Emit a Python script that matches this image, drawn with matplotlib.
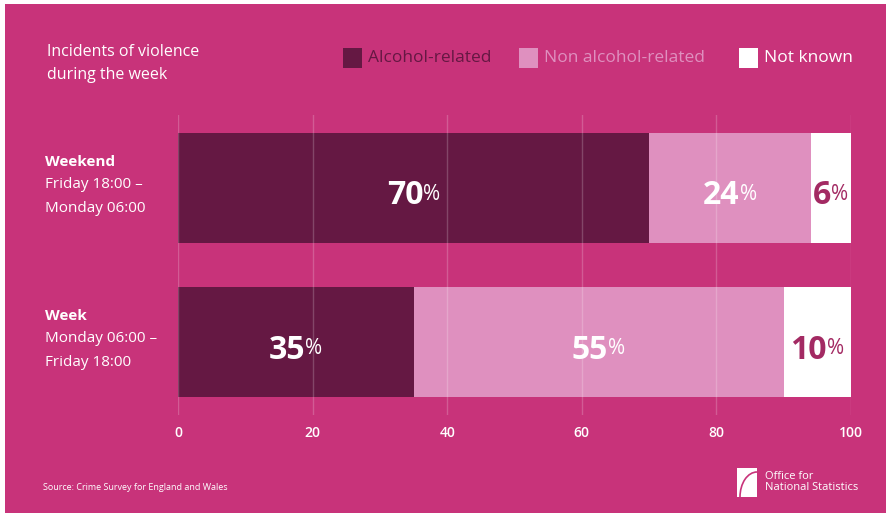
import matplotlib
matplotlib.use("Agg")
import matplotlib.pyplot as plt
from matplotlib.patches import Rectangle, Arc

# data
categories = ["Weekend", "Week"]
periods = [["Friday 18:00 –", "Monday 06:00"], ["Monday 06:00 –", "Friday 18:00"]]
alcohol = [70, 35]
non_alcohol = [24, 55]
not_known = [6, 10]
ticks = [0, 20, 40, 60, 80, 100]

BG = "#c8337a"
DARK = "#651843"
LIGHT = "#df90bf"
NK_TEXT = "#a32a63"
plt.rcParams["font.family"] = ["Open Sans", "DejaVu Sans"]

W, H = 887, 513
fig = plt.figure(figsize=(W / 100, H / 100), dpi=100, facecolor="white")
# magenta panel with thin white edge top/left
fig.patches.append(Rectangle((5 / W, 0), 1, 1 - 4 / H, transform=fig.transFigure,
                             facecolor=BG, edgecolor="none", zorder=-5))

ax = fig.add_axes([178 / W, 1 - 415 / H, 673 / W, 300 / H])
ax.set_facecolor("none")
ax.set_xlim(0, 100)
ax.set_ylim(1.474, -0.474)
for s in ax.spines.values():
    s.set_visible(False)

y = list(range(len(categories)))
h = 0.714
segs = [(alcohol, DARK, "white"),
        (non_alcohol, LIGHT, "white"),
        (not_known, "white", NK_TEXT)]
left = [0] * len(categories)
labels = []
for vals, col, tcol in segs:
    ax.barh(y, vals, left=left, height=h, color=col, edgecolor="none", zorder=2)
    for i, v in enumerate(vals):
        labels.append((left[i] + v / 2, y[i], v, tcol))
    left = [l + v for l, v in zip(left, vals)]

for t in ticks:
    ax.axvline(t, color="white", alpha=0.2, lw=1, zorder=3)
ax.set_xticks(ticks)
ax.set_xticklabels([str(t) for t in ticks], color="white", fontsize=10, fontweight="semibold")
ax.tick_params(axis="x", length=0, pad=8)
ax.set_yticks([])

# value labels: bold number + smaller regular %
fig.canvas.draw()
r = fig.canvas.get_renderer()
inv = ax.transData.inverted()
for cx, cy, v, tcol in labels:
    n = ax.text(0, 0, str(v), fontsize=23, fontweight="bold", color=tcol, zorder=4,
                va="center_baseline")
    p = ax.text(0, 0, "%", fontsize=15, color=tcol, zorder=4, va="center_baseline")
    w1 = n.get_window_extent(r).width
    w2 = p.get_window_extent(r).width
    px, py = ax.transData.transform((cx, cy))
    py -= 4
    x0 = px - (w1 + w2) / 2
    n.set_position(inv.transform((x0, py)))
    p.set_position(inv.transform((x0 + w1, py)))

# row labels
for i, (c, per) in enumerate(zip(categories, periods)):
    ty = 162 + 154 * i
    fig.text(45 / W, 1 - ty / H, c, color="white", fontsize=11, fontweight="bold", va="center")
    for j, line in enumerate(per):
        fig.text(45 / W, 1 - (ty + 23 * (j + 1)) / H, line, color="white", fontsize=11,
                 va="center")

# title and legend
fig.text(47 / W, 1 - 52 / H, "Incidents of violence", color="white", fontsize=11.5, va="center")
fig.text(47 / W, 1 - 75 / H, "during the week", color="white", fontsize=11.5, va="center")
leg = [(343, DARK, "Alcohol-related"),
       (519, LIGHT, "Non alcohol-related"),
       (739, "white", "Not known")]
for x, col, name in leg:
    fig.patches.append(Rectangle((x / W, 1 - 68 / H), 19 / W, 20 / H, transform=fig.transFigure,
                                 facecolor=col, edgecolor="none"))
    fig.text((x + 25) / W, 1 - 58 / H, name, color=col, fontsize=12.5, va="center")

# footer
fig.text(43 / W, 1 - 488 / H, "Source: Crime Survey for England and Wales", color="white",
         fontsize=6.5, va="center")
fig.patches.append(Rectangle((737 / W, 1 - 497 / H), 20 / W, 29 / H, transform=fig.transFigure,
                             facecolor="white", edgecolor="none"))
fig.patches.append(Arc((757 / W, 1 - 497 / H), 34 / W, 50 / H, theta1=90, theta2=180,
                       transform=fig.transFigure, color=BG, lw=1.2))
fig.text(765 / W, 1 - 482 / H, "Office for\nNational Statistics", color="white",
         fontsize=8, va="center", linespacing=1.1)

fig.savefig("out.png", dpi=100, facecolor=fig.get_facecolor())
